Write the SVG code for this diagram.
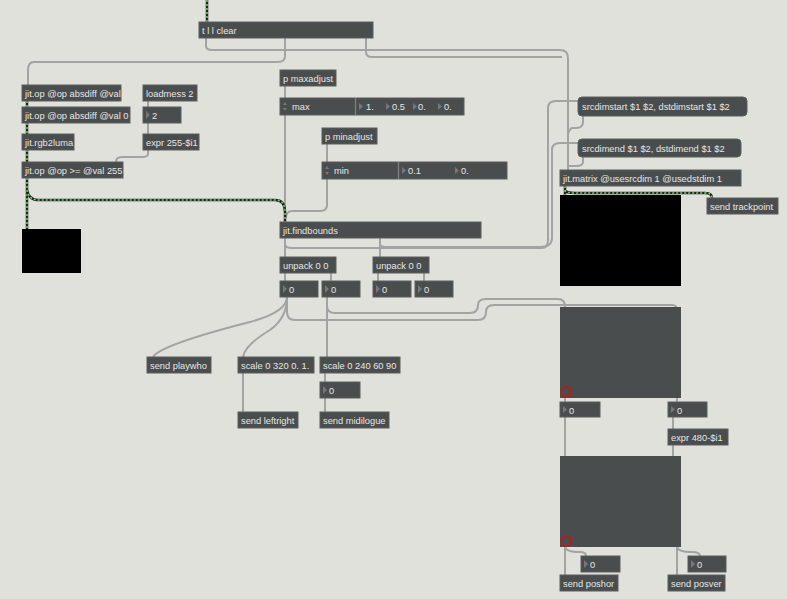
<svg xmlns="http://www.w3.org/2000/svg" width="787" height="599" viewBox="0 0 787 599">
<style>
.b{fill:#4a4d4d;stroke:#5c5f5f;stroke-width:1}
.t{font-family:"Liberation Sans",Arial,sans-serif;font-size:9.3px;fill:#e6e6e6}
.w{fill:none;stroke:#a3a3a3;stroke-width:2}
.g{fill:none;stroke:#222;stroke-width:2.5}
.g2{fill:none;stroke:#6fd36f;stroke-width:1.5;stroke-dasharray:2 2}
.tri{fill:#777}
</style>
<rect width="787" height="599" fill="#e0e1db"/>
<g id="connectors">
<path class="w" d="M206,38 V46 Q206,50 212,50 H560 Q568,50 568,58 V170"/>
<path class="w" d="M366,38 V52 Q366,57 372,57 H562"/>
<path class="w" d="M285,38 V56 Q285,62 278,62 H34 Q28,62 28,70 V85"/>
<path class="w" d="M148,101 V107 M148,123 V134"/>
<path class="w" d="M148,150 V154 Q148,157 142,157 H122 Q116,157 116,162"/>
<path class="w" d="M285,86 V98 M285,115 V222"/>
<path class="w" d="M327,144 V162 M327,178 V205 Q327,211 320,211 H292 Q286,211 286,218"/>
<path class="w" d="M285,238 V257 M380,238 V257"/>
<path class="w" d="M285,238 V244 Q285,248 292,248 H542 Q548,248 548,240 V108 Q548,101 556,101 H578 Q584,101 584,97"/>
<path class="w" d="M380,238 V244 Q380,247 388,247 H540 Q552,247 552,238 V150 Q552,143 560,143 H584"/>
<path class="w" d="M583,116 V122 Q583,128 576,128 H572 Q568,130 568,136"/>
<path class="w" d="M583,157 V162 Q583,166 576,166 H568"/>
<path class="w" d="M285,273 V281 M331,273 V281 M378,273 V281 M424,273 V281"/>
<path class="w" d="M287,297 Q287,312 250,322 Q160,345 153,357"/>
<path class="w" d="M287,297 Q287,318 270,330 Q245,345 243,357"/>
<path class="w" d="M287,297 V312 Q287,320 295,320 H478 Q486,320 486,312 V312 Q486,305 494,305 H672 Q677,305 677,310"/>
<path class="w" d="M327,297 V357"/>
<path class="w" d="M327,297 V306 Q327,313 335,313 H470 Q478,313 478,305 Q478,299 486,299 H558 Q565,299 565,307"/>
<path class="w" d="M243,373 V412 M325,373 V382 M325,398 V412"/>
<path class="w" d="M565,398 V402 M565,417 V456 M677,398 V402 M673,417 V429 M673,445 V456"/>
<path class="w" d="M565,547 V575 M565,547 Q566,552 580,552 Q586,552 586,556"/>
<path class="w" d="M677,547 V575 M677,547 Q678,552 692,552 Q700,552 700,556"/>
<g>
<path class="g" d="M207,0 V22"/><path class="g2" d="M207,0 V22"/>
<path class="g" d="M27,101 V107 M27,123 V134 M27,150 V162 M27,178 V229"/>
<path class="g2" d="M27,101 V107 M27,123 V134 M27,150 V162 M27,178 V229"/>
<path class="g" d="M27,190 Q29,200 38,200 H275 Q285,200 285,212 V222"/>
<path class="g2" d="M27,190 Q29,200 38,200 H275 Q285,200 285,212 V222"/>
<path class="g" d="M565,186 V195 M565,190 Q566,193 575,193 H705 Q712,193 712,198"/>
<path class="g2" d="M565,186 V195 M565,190 Q566,193 575,193 H705 Q712,193 712,198"/>
</g>
</g>
<g id="n-trigger"><rect class="b" x="199" y="22" width="174" height="16"/><text class="t" x="202" y="34">t l l clear</text></g>
<g id="n-op1"><rect class="b" x="22" y="85" width="99" height="16"/><text class="t" x="25" y="97">jit.op @op absdiff @val</text></g>
<g id="n-op2"><rect class="b" x="22" y="107" width="108" height="16"/><text class="t" x="25" y="119">jit.op @op absdiff @val 0</text></g>
<g id="n-luma"><rect class="b" x="22" y="134" width="52" height="16"/><text class="t" x="25" y="146">jit.rgb2luma</text></g>
<g id="n-op3"><rect class="b" x="22" y="162" width="101" height="16"/><text class="t" x="25" y="174">jit.op @op &gt;= @val 255</text></g>
<g id="n-loadmess"><rect class="b" x="143" y="85" width="54" height="16"/><text class="t" x="146" y="97">loadmess 2</text></g>
<g id="n-num2"><rect class="b" x="143" y="107" width="38" height="16"/><path class="tri" d="M146,111 l4,4 l-4,4z"/><text class="t" x="152" y="119">2</text></g>
<g id="n-expr1"><rect class="b" x="143" y="134" width="56" height="16"/><text class="t" x="146" y="146">expr 255-$i1</text></g>
<g id="n-win1"><rect x="22" y="229" width="59" height="44" fill="#000"/></g>
<g id="n-maxadj"><rect class="b" x="280" y="70" width="56" height="16"/><text class="t" x="283" y="82">p maxadjust</text></g>
<g id="n-max"><rect class="b" x="280" y="98" width="75" height="17"/><text class="t" x="292" y="110">max</text><path class="tri" d="M283,105 l2,-3 l2,3z M283,108 l2,3 l2,-3z"/>
<rect class="b" x="356" y="98" width="108" height="17"/>
<path class="tri" d="M359,103 l4,3.5 l-4,3.5z M386,103 l4,3.5 l-4,3.5z M413,103 l4,3.5 l-4,3.5z M438,103 l4,3.5 l-4,3.5z"/>
<text class="t" x="366" y="110">1.</text><text class="t" x="392" y="110">0.5</text><text class="t" x="418" y="110">0.</text><text class="t" x="444" y="110">0.</text></g>
<g id="n-minadj"><rect class="b" x="322" y="128" width="55" height="16"/><text class="t" x="325" y="140">p minadjust</text></g>
<g id="n-min"><rect class="b" x="322" y="162" width="76" height="17"/><text class="t" x="334" y="174">min</text><path class="tri" d="M325,169 l2,-3 l2,3z M325,172 l2,3 l2,-3z"/>
<rect class="b" x="399" y="162" width="108" height="17"/>
<path class="tri" d="M402,167 l4,3.5 l-4,3.5z M455,167 l4,3.5 l-4,3.5z"/>
<text class="t" x="408" y="174">0.1</text><text class="t" x="461" y="174">0.</text></g>
<g id="n-findbounds"><rect class="b" x="280" y="222" width="201" height="16"/><text class="t" x="283" y="234">jit.findbounds</text></g>
<g id="n-unpack1"><rect class="b" x="280" y="257" width="56" height="16"/><text class="t" x="283" y="269">unpack 0 0</text></g>
<g id="n-unpack2"><rect class="b" x="373" y="257" width="56" height="16"/><text class="t" x="376" y="269">unpack 0 0</text></g>
<g id="n-nums"><rect class="b" x="280" y="281" width="38" height="16"/><rect class="b" x="322" y="281" width="38" height="16"/><rect class="b" x="373" y="281" width="38" height="16"/><rect class="b" x="415" y="281" width="38" height="16"/>
<path class="tri" d="M283,285 l4,4 l-4,4z M325,285 l4,4 l-4,4z M376,285 l4,4 l-4,4z M418,285 l4,4 l-4,4z"/>
<text class="t" x="289" y="293">0</text><text class="t" x="331" y="293">0</text><text class="t" x="382" y="293">0</text><text class="t" x="424" y="293">0</text></g>
<g id="n-playwho"><rect class="b" x="147" y="357" width="64" height="16"/><text class="t" x="150" y="369">send playwho</text></g>
<g id="n-scale1"><rect class="b" x="238" y="357" width="76" height="16"/><text class="t" x="241" y="369">scale 0 320 0. 1.</text></g>
<g id="n-scale2"><rect class="b" x="320" y="357" width="80" height="16"/><text class="t" x="323" y="369">scale 0 240 60 90</text></g>
<g id="n-num3"><rect class="b" x="320" y="382" width="40" height="16"/><path class="tri" d="M323,386 l4,4 l-4,4z"/><text class="t" x="329" y="394">0</text></g>
<g id="n-leftright"><rect class="b" x="238" y="412" width="60" height="16"/><text class="t" x="241" y="424">send leftright</text></g>
<g id="n-midilogue"><rect class="b" x="320" y="412" width="69" height="16"/><text class="t" x="323" y="424">send midilogue</text></g>
<g id="n-msg1"><rect class="b" x="578" y="97" width="169" height="19" rx="4"/><text class="t" x="582" y="110">srcdimstart $1 $2, dstdimstart $1 $2</text></g>
<g id="n-msg2"><rect class="b" x="578" y="139" width="163" height="18" rx="4"/><text class="t" x="582" y="152">srcdimend $1 $2, dstdimend $1 $2</text></g>
<g id="n-matrix"><rect class="b" x="560" y="170" width="181" height="16"/><text class="t" x="563" y="182">jit.matrix @usesrcdim 1 @usedstdim 1</text></g>
<g id="n-win2"><rect x="560" y="195" width="121" height="91" fill="#000"/></g>
<g id="n-trackpoint"><rect class="b" x="707" y="198" width="71" height="16"/><text class="t" x="710" y="210">send trackpoint</text></g>
<g id="n-panel1"><rect x="560" y="307" width="121" height="91" fill="#4a4d4d"/><circle cx="566" cy="392" r="5" fill="none" stroke="#d01010" stroke-width="1.5"/></g>
<g id="n-num4"><rect class="b" x="560" y="402" width="40" height="15"/><path class="tri" d="M563,406 l4,3.5 l-4,3.5z"/><text class="t" x="569" y="414">0</text></g>
<g id="n-num5"><rect class="b" x="668" y="402" width="39" height="15"/><path class="tri" d="M671,406 l4,3.5 l-4,3.5z"/><text class="t" x="677" y="414">0</text></g>
<g id="n-expr2"><rect class="b" x="668" y="429" width="60" height="16"/><text class="t" x="671" y="441">expr 480-$i1</text></g>
<g id="n-panel2"><rect x="560" y="456" width="121" height="91" fill="#4a4d4d"/><circle cx="566" cy="541" r="5" fill="none" stroke="#d01010" stroke-width="1.5"/></g>
<g id="n-num6"><rect class="b" x="581" y="556" width="39" height="16"/><path class="tri" d="M584,560 l4,4 l-4,4z"/><text class="t" x="590" y="568">0</text></g>
<g id="n-num7"><rect class="b" x="688" y="556" width="38" height="16"/><path class="tri" d="M691,560 l4,4 l-4,4z"/><text class="t" x="697" y="568">0</text></g>
<g id="n-poshor"><rect class="b" x="560" y="575" width="58" height="16"/><text class="t" x="563" y="587">send poshor</text></g>
<g id="n-posver"><rect class="b" x="668" y="575" width="57" height="16"/><text class="t" x="671" y="587">send posver</text></g>
</svg>
